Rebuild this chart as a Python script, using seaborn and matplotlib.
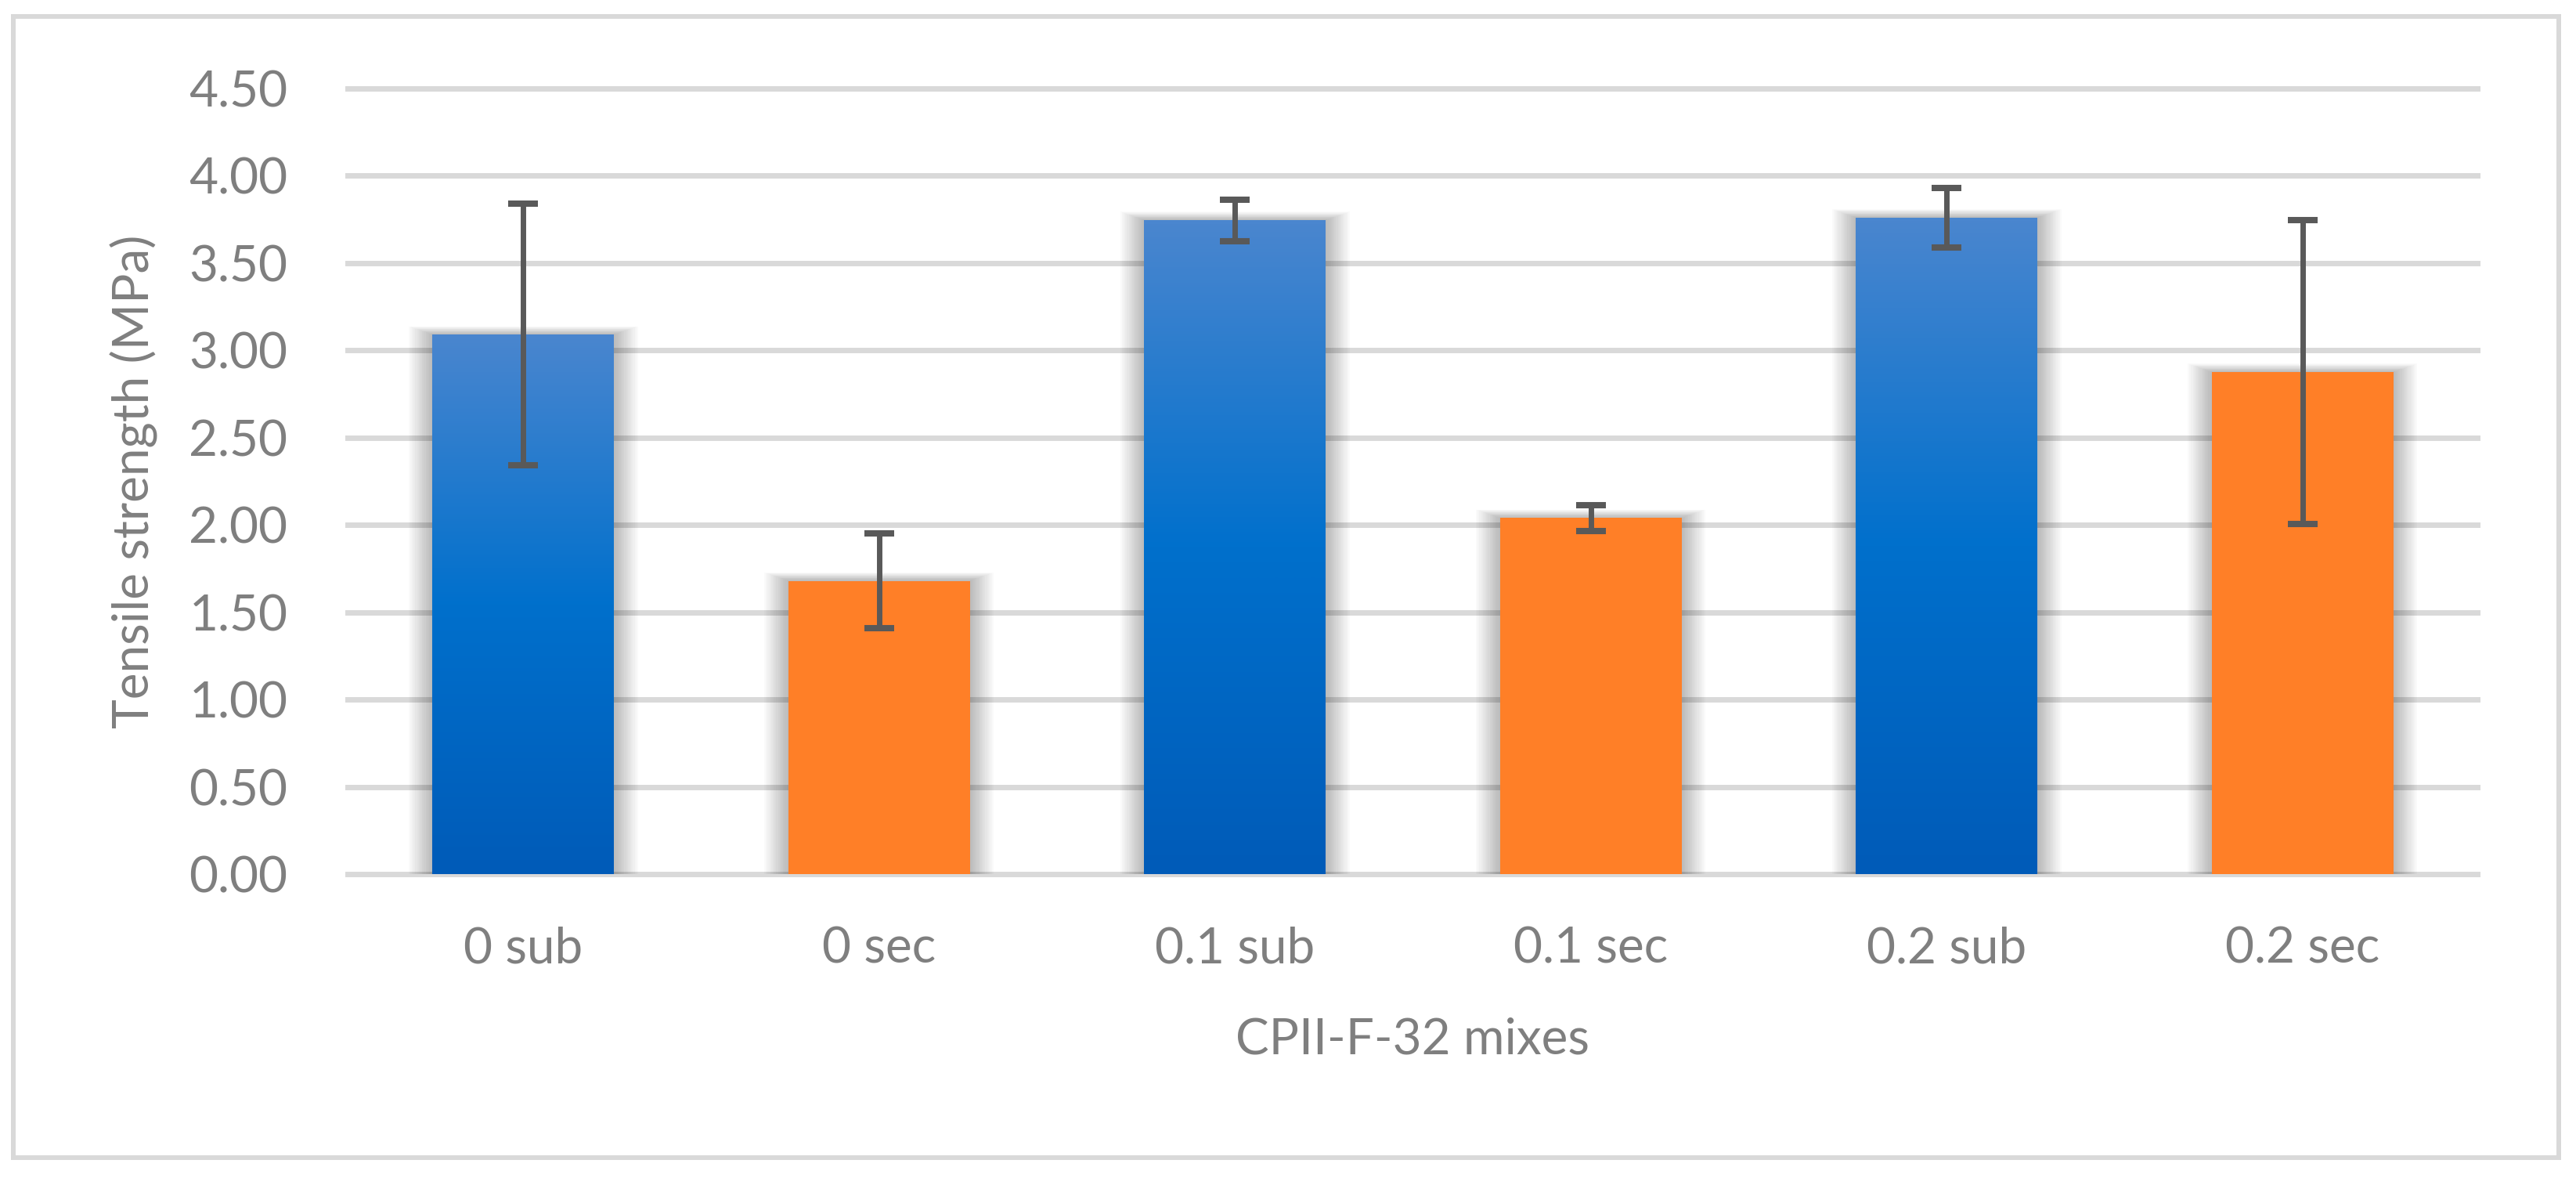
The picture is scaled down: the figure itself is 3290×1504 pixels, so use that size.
import numpy as np
import pandas as pd
import matplotlib
matplotlib.use("Agg")
import matplotlib.pyplot as plt
import seaborn as sns
from matplotlib.colors import LinearSegmentedColormap
from matplotlib.patches import Rectangle

# ---- data ----
mixes = ["0 sub", "0 sec", "0.1 sub", "0.1 sec", "0.2 sub", "0.2 sec"]
strength = [3.09, 1.68, 3.745, 2.04, 3.76, 2.875]
errors = [0.75, 0.27, 0.12, 0.075, 0.17, 0.87]
curing = ["sub", "sec", "sub", "sec", "sub", "sec"]
yticks = [0.0, 0.5, 1.0, 1.5, 2.0, 2.5, 3.0, 3.5, 4.0, 4.5]
ylabel = "Tensile strength (MPa)"
xlabel = "CPII-F-32 mixes"

TEXT = "#7F7F7F"
GRID = "#D9D9D9"
ORANGE = "#FF7F27"
BLUE = "#0070CC"

sns.set_theme(style="white")
plt.rcParams['font.family'] = ['Lato', 'DejaVu Sans']

W, H = 3290, 1504
fig = plt.figure(figsize=(W / 100, H / 100), dpi=100)
fig.patch.set_facecolor("white")
ax = fig.add_axes([441 / W, 1 - 1120.5 / H, (3168 - 441) / W, (1120.5 - 108.5) / H])

df = pd.DataFrame({"mix": mixes, "strength": strength, "curing": curing})
sns.barplot(data=df, x="mix", y="strength", hue="curing", order=mixes,
            palette={"sub": BLUE, "sec": ORANGE}, width=0.51, dodge=False,
            saturation=1, errorbar=None, legend=False, ax=ax, zorder=3, linewidth=0)

ax.set_xlim(-0.5, len(mixes) - 0.5)
ax.set_ylim(-0.02, 4.52)

# gradient for blue bars + soft shadows
cmap = LinearSegmentedColormap.from_list(
    "excelblue", [(0.0, "#005BB8"), (0.5, "#0070CC"), (1.0, "#4A86CF")])
grad = np.linspace(0, 1, 256).reshape(-1, 1)
px_x = 1.0 / 454.5   # data units per pixel (x)
px_y = 0.5 / 111.7   # data units per pixel (y)
for p in list(ax.patches):
    x0, w, h = p.get_x(), p.get_width(), p.get_height()
    idx = int(round(x0 + w / 2))
    # shadow
    for k in range(1, 15):
        pad = k * 2.2
        ax.add_patch(Rectangle((x0 - pad * px_x, 0), w + 2 * pad * px_x,
                               h + pad * px_y * 0.35, facecolor="black",
                               edgecolor="none", alpha=0.018, zorder=2.5))
    if curing[idx] == "sub":
        im = ax.imshow(grad, origin="lower", extent=[x0, x0 + w, 0, h],
                       aspect="auto", cmap=cmap, zorder=3.1, interpolation="bilinear")
        im.set_clip_path(p)

ax.set_xlim(-0.5, len(mixes) - 0.5)
ax.set_ylim(-0.02, 4.52)

ax.errorbar(np.arange(len(mixes)), strength, yerr=errors, fmt="none",
            ecolor="#595959", elinewidth=5, capsize=13.7, capthick=5.8, zorder=5)

ax.set_yticks(yticks)
ax.set_yticklabels([f"{v:.2f}" for v in yticks])
ax.set_axisbelow(True)
ax.yaxis.grid(True, color=GRID, linewidth=5)
ax.xaxis.grid(False)
for s in ax.spines.values():
    s.set_visible(False)

ax.tick_params(axis="y", length=0, pad=53, labelsize=46, labelcolor=TEXT)
ax.tick_params(axis="x", length=0, pad=45, labelsize=46, labelcolor=TEXT)

ax.set_ylabel(ylabel, fontsize=46, color=TEXT, va="center")
ax.yaxis.set_label_coords(-0.099, 0.5)
ax.set_xlabel(xlabel, fontsize=46, color=TEXT, va="center")
ax.xaxis.set_label_coords(0.5, -0.205)

fig.add_artist(Rectangle((17 / W, 1 - 1478 / H), (3268 - 17) / W, (1478 - 21) / H,
                         transform=fig.transFigure, fill=False,
                         edgecolor=GRID, linewidth=4.3))

fig.savefig("out.png", dpi=100)
